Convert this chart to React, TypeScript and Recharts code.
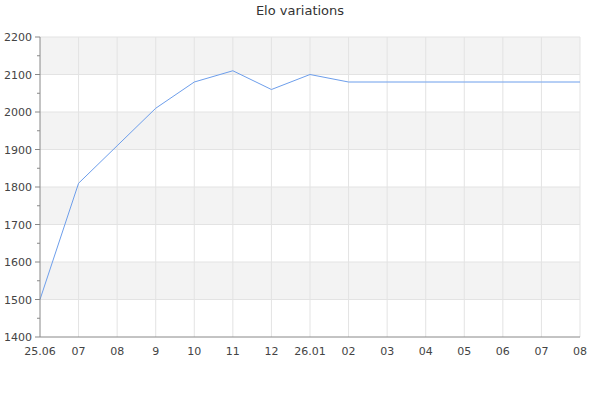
import { LineChart, Line, XAxis, YAxis, ReferenceArea, ReferenceLine } from "recharts";

const labels = ["25.06", "07", "08", "9", "10", "11", "12", "26.01", "02", "03", "04", "05", "06", "07", "08"];
const elo = [1500, 1810, 1910, 2010, 2080, 2110, 2060, 2100, 2080, 2080, 2080, 2080, 2080, 2080, 2080];
const yTicks = [1400, 1450, 1500, 1550, 1600, 1650, 1700, 1750, 1800, 1850, 1900, 1950, 2000, 2050, 2100, 2150, 2200];
const gridValues = [1500, 1600, 1700, 1800, 1900, 2000, 2100, 2200];
const bands = [
  [1500, 1600],
  [1700, 1800],
  [1900, 2000],
  [2100, 2200],
];

const data = labels.map((label, i) => ({ i, label, elo: elo[i] }));
const xTicks = labels.map((_, i) => i);

const font = "'DejaVu Sans', sans-serif";

function YTick(props: any) {
  const { x, y, payload } = props;
  const major = payload.value % 100 === 0;
  return (
    <g>
      <line x1={major ? x + 3 : x + 5} x2={x + 8} y1={y} y2={y} stroke="#888" />
      {major && (
        <text x={x} y={y} dy={4} textAnchor="end" fontSize={11} fill="#444" fontFamily={font}>
          {payload.value}
        </text>
      )}
    </g>
  );
}

export default function App() {
  return (
    <div style={{ position: "absolute", left: 0, top: 0, width: 600, height: 400, background: "#fff" }}>
      <div
        style={{
          position: "absolute",
          top: 3,
          width: 600,
          textAlign: "center",
          fontFamily: font,
          fontSize: 13,
          color: "#333",
        }}
      >
        Elo variations
      </div>
      <LineChart width={600} height={400} data={data} margin={{ top: 37, right: 20, left: 0, bottom: 33 }}>
        {bands.map(([a, b]) => (
          <ReferenceArea key={a} y1={a} y2={b} fill="#f3f3f3" fillOpacity={1} stroke="none" />
        ))}
        {xTicks.slice(1).map((v) => (
          <ReferenceLine key={"x" + v} x={v} stroke="#e3e3e3" />
        ))}
        {gridValues.map((v) => (
          <ReferenceLine key={v} y={v} stroke="#e3e3e3" />
        ))}
        <XAxis
          dataKey="i"
          type="number"
          domain={[0, labels.length - 1]}
          ticks={xTicks}
          interval={0}
          tickFormatter={(v) => labels[v]}
          tickLine={false}
          tickSize={0}
          tickMargin={10}
          height={30}
          stroke="#888"
          tick={{ fontSize: 11, fill: "#444", fontFamily: font }}
        />
        <YAxis
          domain={[1400, 2200]}
          ticks={yTicks}
          interval={0}
          width={40}
          tickLine={false}
          tickSize={5}
          tickMargin={3}
          stroke="#888"
          tick={<YTick />}
        />
        <Line
          type="linear"
          dataKey="elo"
          stroke="#6d9eeb"
          strokeWidth={1}
          dot={false}
          isAnimationActive={false}
        />
      </LineChart>
    </div>
  );
}
